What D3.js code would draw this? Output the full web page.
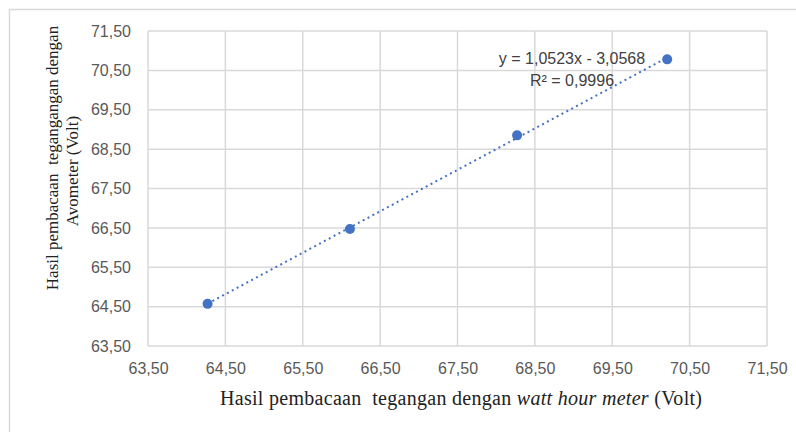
<!DOCTYPE html>
<html>
  <head>
    <meta charset="utf-8" />
    <title>Tegangan watt hour meter vs Avometer</title>
    <style>
      body { margin: 0; background: #fff; }
    </style>
  </head>
  <body>
    <svg id="chart" width="796" height="432"></svg>
    <script src="https://d3js.org/d3.v7.min.js"></script>
    <script>
      // readings (Volt)
      const whmVolt = [64.27, 66.11, 68.27, 70.21];
      const avoVolt = [64.57, 66.47, 68.85, 70.78];
      const tickValues = [63.5, 64.5, 65.5, 66.5, 67.5, 68.5, 69.5, 70.5, 71.5];
      const slope = 1.0523;
      const intercept = -3.0568;
      const eqLines = ["y = 1,0523x - 3,0568", "R² = 0,9996"];

      let margin = { top: 31, right: 29, bottom: 86, left: 148 },
        width = 796 - margin.left - margin.right,
        height = 432 - margin.top - margin.bottom;

      const svg = d3.select("#chart");

      // outer chart border (only top and left are visible in the picture)
      svg
        .append("rect")
        .attr("x", 9.5)
        .attr("y", 9.5)
        .attr("width", 800)
        .attr("height", 440)
        .attr("fill", "none")
        .attr("stroke", "#d9d9d9")
        .attr("stroke-width", 1.5);

      let chart = svg
        .append("g")
        .attr("transform", "translate(" + margin.left + "," + margin.top + ")");

      let xScale = d3.scaleLinear().domain([63.5, 71.5]).range([0, width]);
      let yScale = d3.scaleLinear().domain([63.5, 71.5]).range([height, 0]);

      const fmt = (d) => d.toFixed(2).replace(".", ",");

      // gridlines
      chart
        .append("g")
        .selectAll("line")
        .data(tickValues)
        .join("line")
        .attr("x1", (d) => xScale(d))
        .attr("x2", (d) => xScale(d))
        .attr("y1", 0)
        .attr("y2", height)
        .attr("stroke", "#d9d9d9")
        .attr("stroke-width", 1.5);

      chart
        .append("g")
        .selectAll("line")
        .data(tickValues)
        .join("line")
        .attr("x1", 0)
        .attr("x2", width)
        .attr("y1", (d) => yScale(d))
        .attr("y2", (d) => yScale(d))
        .attr("stroke", "#d9d9d9")
        .attr("stroke-width", 1.5);

      // axes (labels only)
      let xAxis = chart
        .append("g")
        .attr("transform", "translate(0," + height + ")")
        .call(d3.axisBottom(xScale).tickValues(tickValues).tickFormat(fmt).tickSize(0).tickPadding(17));
      let yAxis = chart
        .append("g")
        .call(d3.axisLeft(yScale).tickValues(tickValues).tickFormat(fmt).tickSize(0).tickPadding(17));

      [xAxis, yAxis].forEach((a) => {
        a.select(".domain").remove();
        a.selectAll("text")
          .attr("fill", "#595959")
          .style("font-family", "'Liberation Sans', Arial, sans-serif")
          .style("font-size", "16px");
      });

      // trendline
      const xMin = d3.min(whmVolt),
        xMax = d3.max(whmVolt);
      chart
        .append("line")
        .attr("x1", xScale(xMin))
        .attr("y1", yScale(slope * xMin + intercept))
        .attr("x2", xScale(xMax))
        .attr("y2", yScale(slope * xMax + intercept))
        .attr("stroke", "#4472c4")
        .attr("stroke-width", 2)
        .attr("stroke-dasharray", "2,3.5");

      // points
      chart
        .selectAll("circle")
        .data(whmVolt)
        .join("circle")
        .attr("cx", (d) => xScale(d))
        .attr("cy", (d, i) => yScale(avoVolt[i]))
        .attr("r", 5)
        .attr("fill", "#4472c4");

      // equation label
      chart
        .append("g")
        .selectAll("text")
        .data(eqLines)
        .join("text")
        .attr("x", 572 - margin.left)
        .attr("y", (d, i) => 64 - margin.top + i * 22)
        .attr("text-anchor", "middle")
        .attr("fill", "#404040")
        .style("font-family", "'Liberation Sans', Arial, sans-serif")
        .style("font-size", "16px")
        .text((d) => d);

      // axis titles
      const serif = "'Liberation Serif', 'Times New Roman', serif";
      svg
        .append("text")
        .attr("x", 461)
        .attr("y", 405)
        .attr("text-anchor", "middle")
        .attr("xml:space", "preserve")
        .attr("textLength", 482)
        .attr("lengthAdjust", "spacing")
        .attr("fill", "#222")
        .style("font-family", serif)
        .style("font-size", "20px")
        .call((t) => {
          t.append("tspan").text("Hasil pembacaan  tegangan dengan ");
          t.append("tspan").style("font-style", "italic").text("watt hour meter");
          t.append("tspan").text(" (Volt)");
        });

      const yTitle = ["Hasil pembacaan  tegangangan dengan", "Avometer (Volt)"];
      const yTitleCenter = [158, 171];
      svg
        .append("g")
        .selectAll("text")
        .data(yTitle)
        .join("text")
        .attr("transform", (d, i) => "translate(" + (58 + i * 20) + "," + yTitleCenter[i] + ") rotate(-90)")
        .attr("text-anchor", "middle")
        .attr("xml:space", "preserve")
        .attr("fill", "#222")
        .style("font-family", serif)
        .style("font-size", "17px")
        .text((d) => d);
    </script>
  </body>
</html>
